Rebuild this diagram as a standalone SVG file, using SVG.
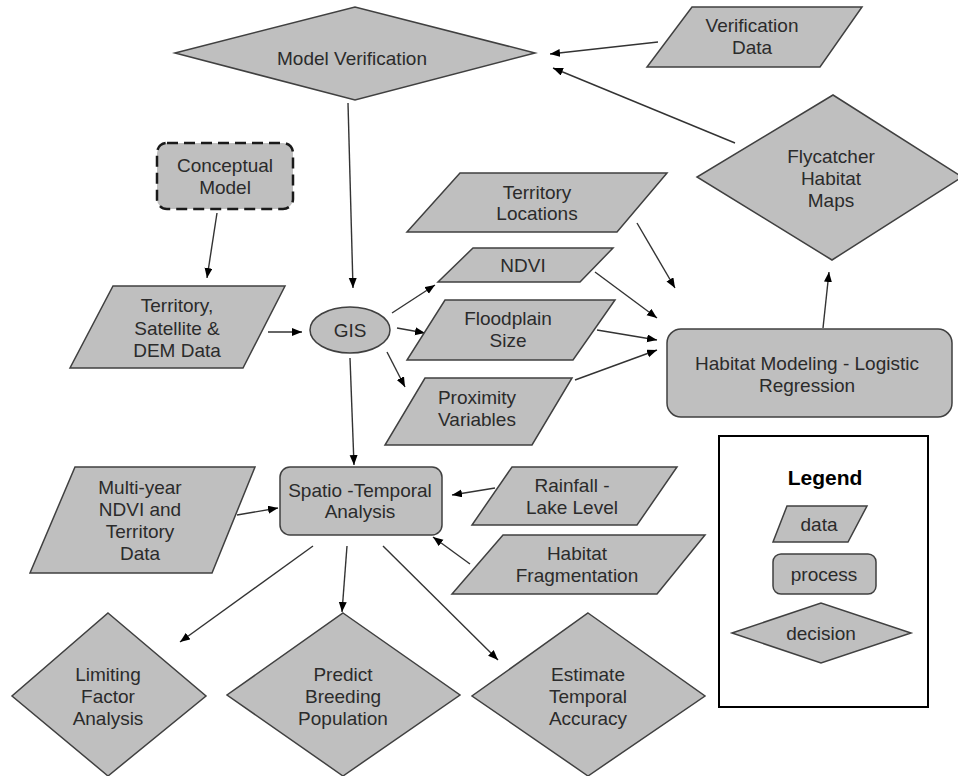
<svg xmlns="http://www.w3.org/2000/svg" width="958" height="776" viewBox="0 0 958 776">
  <style>
    .shape { fill: #bfbfbf; stroke: #404040; stroke-width: 1.5; }
    .dashed { fill: #bfbfbf; stroke: #1a1a1a; stroke-width: 2.5; stroke-dasharray: 11 6; }
    .legend-box { fill: #ffffff; stroke: #000000; stroke-width: 2; }
    .label { font-family: "Liberation Sans", Arial, sans-serif; font-size: 19px; fill: #2b2b2b; text-anchor: middle; dominant-baseline: central; }
    .title { font-family: "Liberation Sans", Arial, sans-serif; font-size: 21px; font-weight: bold; fill: #000000; text-anchor: middle; dominant-baseline: central; }
    .edge { stroke: #333333; stroke-width: 1.4; fill: none; marker-end: url(#arrow); }
  </style>
  <defs>
    <marker id="arrow" markerUnits="userSpaceOnUse" markerWidth="11" markerHeight="9" refX="10" refY="4" orient="auto">
      <path d="M0,0 L10,4 L0,8 z" fill="#000000"/>
    </marker>
  </defs>
  <rect width="958" height="776" fill="#ffffff"/>

  <!-- connectors -->
  <g id="connectors">
    <line class="edge" x1="658" y1="42" x2="550" y2="54"/>
    <line class="edge" x1="735" y1="143" x2="553" y2="68"/>
    <line class="edge" x1="348" y1="103" x2="353" y2="288"/>
    <line class="edge" x1="217" y1="213" x2="207" y2="278"/>
    <line class="edge" x1="268" y1="332" x2="302" y2="332"/>
    <line class="edge" x1="392" y1="313" x2="435" y2="285"/>
    <line class="edge" x1="397" y1="328" x2="425" y2="333"/>
    <line class="edge" x1="387" y1="352" x2="405" y2="387"/>
    <line class="edge" x1="350" y1="358" x2="354" y2="465"/>
    <line class="edge" x1="637" y1="223" x2="675" y2="288"/>
    <line class="edge" x1="595" y1="272" x2="657" y2="318"/>
    <line class="edge" x1="597" y1="330" x2="657" y2="340"/>
    <line class="edge" x1="575" y1="380" x2="657" y2="350"/>
    <line class="edge" x1="823" y1="328" x2="829" y2="272"/>
    <line class="edge" x1="237" y1="515" x2="278" y2="508"/>
    <line class="edge" x1="495" y1="488" x2="452" y2="495"/>
    <line class="edge" x1="470" y1="564" x2="433" y2="537"/>
    <line class="edge" x1="313" y1="546" x2="180" y2="642"/>
    <line class="edge" x1="347" y1="546" x2="342" y2="612"/>
    <line class="edge" x1="383" y1="546" x2="498" y2="660"/>
  </g>

  <!-- decisions -->
  <g id="model-verification">
    <polygon class="shape" points="175,53 355,7 535,53 355,100"/>
    <text class="label" x="352" y="58">Model Verification</text>
  </g>
  <g id="flycatcher-habitat-maps">
    <polygon class="shape" points="833,95 962,177 832,260 697,177"/>
    <text class="label" x="831" y="156">Flycatcher</text>
    <text class="label" x="831" y="178">Habitat</text>
    <text class="label" x="831" y="200">Maps</text>
  </g>
  <g id="limiting-factor-analysis">
    <polygon class="shape" points="108,613 206,696 108,776 12,696"/>
    <text class="label" x="108" y="674">Limiting</text>
    <text class="label" x="108" y="696">Factor</text>
    <text class="label" x="108" y="718">Analysis</text>
  </g>
  <g id="predict-breeding-population">
    <polygon class="shape" points="343,613 460,695 343,776 227,695"/>
    <text class="label" x="343" y="674">Predict</text>
    <text class="label" x="343" y="696">Breeding</text>
    <text class="label" x="343" y="718">Population</text>
  </g>
  <g id="estimate-temporal-accuracy">
    <polygon class="shape" points="588,613 705,696 588,776 472,696"/>
    <text class="label" x="588" y="674">Estimate</text>
    <text class="label" x="588" y="696">Temporal</text>
    <text class="label" x="588" y="718">Accuracy</text>
  </g>

  <!-- data -->
  <g id="verification-data">
    <polygon class="shape" points="692,7 862,7 820,67 647,67"/>
    <text class="label" x="752" y="25">Verification</text>
    <text class="label" x="752" y="47">Data</text>
  </g>
  <g id="territory-satellite-dem">
    <polygon class="shape" points="113,286 285,286 243,368 70,368"/>
    <text class="label" x="177" y="305">Territory,</text>
    <text class="label" x="177" y="328">Satellite &amp;</text>
    <text class="label" x="177" y="350">DEM Data</text>
  </g>
  <g id="territory-locations">
    <polygon class="shape" points="460,173 667,173 617,232 407,232"/>
    <text class="label" x="537" y="192">Territory</text>
    <text class="label" x="537" y="213">Locations</text>
  </g>
  <g id="ndvi">
    <polygon class="shape" points="473,248 613,248 580,282 438,282"/>
    <text class="label" x="523" y="265">NDVI</text>
  </g>
  <g id="floodplain-size">
    <polygon class="shape" points="445,300 615,300 573,360 407,360"/>
    <text class="label" x="508" y="318">Floodplain</text>
    <text class="label" x="508" y="340">Size</text>
  </g>
  <g id="proximity-variables">
    <polygon class="shape" points="425,378 572,378 532,445 385,445"/>
    <text class="label" x="477" y="397">Proximity</text>
    <text class="label" x="477" y="419">Variables</text>
  </g>
  <g id="multi-year-ndvi">
    <polygon class="shape" points="75,467 255,467 212,573 30,573"/>
    <text class="label" x="140" y="487">Multi-year</text>
    <text class="label" x="140" y="509">NDVI and</text>
    <text class="label" x="140" y="531">Territory</text>
    <text class="label" x="140" y="553">Data</text>
  </g>
  <g id="rainfall-lake-level">
    <polygon class="shape" points="512,467 677,467 637,525 472,525"/>
    <text class="label" x="572" y="485">Rainfall -</text>
    <text class="label" x="572" y="507">Lake Level</text>
  </g>
  <g id="habitat-fragmentation">
    <polygon class="shape" points="503,535 705,535 657,594 452,594"/>
    <text class="label" x="577" y="553">Habitat</text>
    <text class="label" x="577" y="575">Fragmentation</text>
  </g>

  <!-- processes -->
  <g id="conceptual-model">
    <rect class="dashed" x="157" y="143" width="136" height="66" rx="10"/>
    <text class="label" x="225" y="165">Conceptual</text>
    <text class="label" x="225" y="187">Model</text>
  </g>
  <g id="gis">
    <ellipse class="shape" cx="350" cy="330" rx="40" ry="23"/>
    <text class="label" x="350" y="330">GIS</text>
  </g>
  <g id="habitat-modeling">
    <rect class="shape" x="667" y="329" width="285" height="88" rx="14"/>
    <text class="label" x="807" y="363">Habitat Modeling - Logistic</text>
    <text class="label" x="807" y="385">Regression</text>
  </g>
  <g id="spatio-temporal-analysis">
    <rect class="shape" x="280" y="467" width="162" height="68" rx="10"/>
    <text class="label" x="360" y="490">Spatio -Temporal</text>
    <text class="label" x="360" y="511">Analysis</text>
  </g>

  <!-- legend -->
  <g id="legend">
    <rect class="legend-box" x="719" y="436" width="209" height="271"/>
    <text class="title" x="825" y="477">Legend</text>
    <polygon class="shape" points="787,506 867,506 848,542 773,542"/>
    <text class="label" x="819" y="524">data</text>
    <rect class="shape" x="773" y="554" width="103" height="40" rx="8"/>
    <text class="label" x="824" y="574">process</text>
    <polygon class="shape" points="732,633 821,603 911,633 821,663"/>
    <text class="label" x="821" y="633">decision</text>
  </g>
</svg>
